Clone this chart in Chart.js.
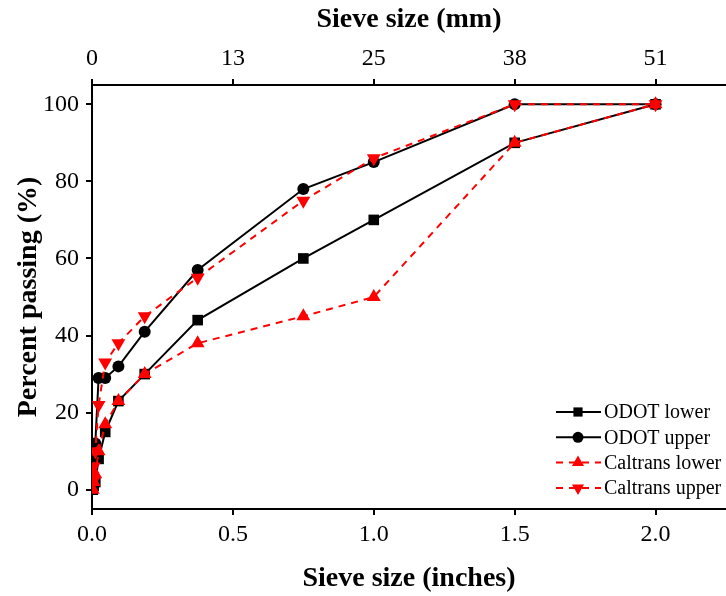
<!DOCTYPE html>
<html>
<head>
<meta charset="utf-8">
<script src="https://cdn.jsdelivr.net/npm/chart.js@4"></script>
<style>
  html, body { margin: 0; padding: 0; background: #fff; overflow: hidden; }
  #wrap { width: 726px; height: 596px; }
  canvas { display: block; }
</style>
</head>
<body>
<div id="wrap"><canvas id="ch" width="726" height="596"></canvas></div>
<script>
// sieve openings (inches)
const sieves = [0.0029, 0.0059, 0.0117, 0.0234, 0.0469, 0.0937, 0.187, 0.375, 0.75, 1.0, 1.5, 2.0];

const odotLower = [0, 1, 2, 8, 15, 23, 30, 44, 60, 70, 90, 100];
const odotUpper = [4, 8, 12, 29, 29, 32, 41, 57, 78, 85, 100, 100];
const caltransLower = [0, 2, 4, 10, 17, 23, 30, 38, 45, 50, 90, 100];
const caltransUpper = [2, 6, 10, 22, 33, 38, 45, 55, 75, 86, 100, 100];

const inchTicks = [0, 0.5, 1.0, 1.5, 2.0];
const mmLabels = ['0', '13', '25', '38', '51'];

const legendItems = [
    { text: 'ODOT lower', color: '#000', dash: [], point: 'rect', rot: 0, r: 6.5 },
    { text: 'ODOT upper', color: '#000', dash: [], point: 'circle', rot: 0, r: 5.5 },
    { text: 'Caltrans lower', color: '#ff0000', dash: [7, 6], point: 'triangle', rot: 0, r: 7 },
    { text: 'Caltrans upper', color: '#ff0000', dash: [7, 6], point: 'triangle', rot: 180, r: 7 }
];

let pts = (ys) => sieves.map((x, i) => ({ x: x, y: ys[i] }));

let serif = 'Liberation Serif';
let tickFont = { family: serif, size: 24 };
let titleFont = { family: serif, size: 28, weight: 'bold' };

let legendPlugin = {
    id: 'lineLegend',
    afterDraw: (chart) => {
        let ctx = chart.ctx;
        ctx.save();
        legendItems.forEach((it, i) => {
            let y = 412 + i * 25.3;
            ctx.strokeStyle = it.color;
            ctx.fillStyle = it.color;
            ctx.lineWidth = 2;
            ctx.setLineDash(it.dash);
            ctx.beginPath();
            ctx.moveTo(556, y);
            ctx.lineTo(601, y);
            ctx.stroke();
            ctx.setLineDash([]);
            Chart.helpers.drawPoint(ctx, { pointStyle: it.point, radius: it.r, rotation: it.rot, borderWidth: 0 }, 578, y);
            ctx.fillStyle = '#000';
            ctx.font = '20px "Liberation Serif"';
            ctx.textBaseline = 'middle';
            ctx.fillText(it.text, 604, y + 1);
        });
        ctx.restore();
    }
};

let ds = (label, data, color, dash, style, rot, r, order) => ({
    label: label,
    data: data,
    borderColor: color,
    backgroundColor: color,
    borderWidth: 2,
    borderDash: dash,
    pointStyle: style,
    pointRotation: rot,
    pointRadius: r,
    pointBorderWidth: 0,
    order: order
});

let axisGrid = { display: true, drawOnChartArea: false, drawTicks: true, tickLength: 6, tickColor: '#000', lineWidth: 2 };
let axisBorder = { display: true, color: '#000', width: 2 };

let noPad = (s, h) => { s.height = h; s.paddingLeft = 0; s.paddingRight = 0; };

new Chart('ch', {
    type: 'line',
    data: {
        datasets: [
            ds('Caltrans upper', pts(caltransUpper), '#ff0000', [7, 6], 'triangle', 180, 8, 0),
            ds('Caltrans lower', pts(caltransLower), '#ff0000', [7, 6], 'triangle', 0, 8, 1),
            ds('ODOT upper', pts(odotUpper), '#000', [], 'circle', 0, 6, 2),
            ds('ODOT lower', pts(odotLower), '#000', [], 'rect', 0, 7.5, 3)
        ]
    },
    options: {
        responsive: false,
        animation: false,
        layout: { padding: 0, autoPadding: false },
        plugins: { legend: { display: false }, tooltip: { enabled: false } },
        scales: {
            x: {
                type: 'linear',
                position: 'bottom',
                min: 0,
                max: 2.25,
                afterFit: (s) => noPad(s, 87),
                afterBuildTicks: (s) => { s.ticks = inchTicks.map(v => ({ value: v })); },
                ticks: { font: tickFont, color: '#000', padding: 5, maxRotation: 0, callback: (v) => v.toFixed(1) },
                grid: axisGrid,
                border: axisBorder,
                title: { display: true, text: 'Sieve size (inches)', font: titleFont, color: '#000', padding: { top: 0, bottom: 0 } }
            },
            x2: {
                type: 'linear',
                position: 'top',
                min: 0,
                max: 2.25,
                afterFit: (s) => noPad(s, 85),
                afterBuildTicks: (s) => { s.ticks = inchTicks.map(v => ({ value: v })); },
                ticks: { font: tickFont, color: '#000', padding: 6, maxRotation: 0, callback: (v, i) => mmLabels[i] },
                grid: axisGrid,
                border: axisBorder,
                title: { display: true, text: 'Sieve size (mm)', font: titleFont, color: '#000', padding: { top: 3, bottom: 0 } }
            },
            y: {
                min: -5,
                max: 105,
                afterFit: (s) => { s.width = 92; },
                ticks: { font: tickFont, color: '#000', padding: 7, stepSize: 20, includeBounds: false },
                grid: axisGrid,
                border: axisBorder,
                title: { display: true, text: 'Percent passing (%)', font: titleFont, color: '#000', padding: { top: 12, bottom: 0 } }
            }
        }
    },
    plugins: [legendPlugin]
});
</script>
</body>
</html>
